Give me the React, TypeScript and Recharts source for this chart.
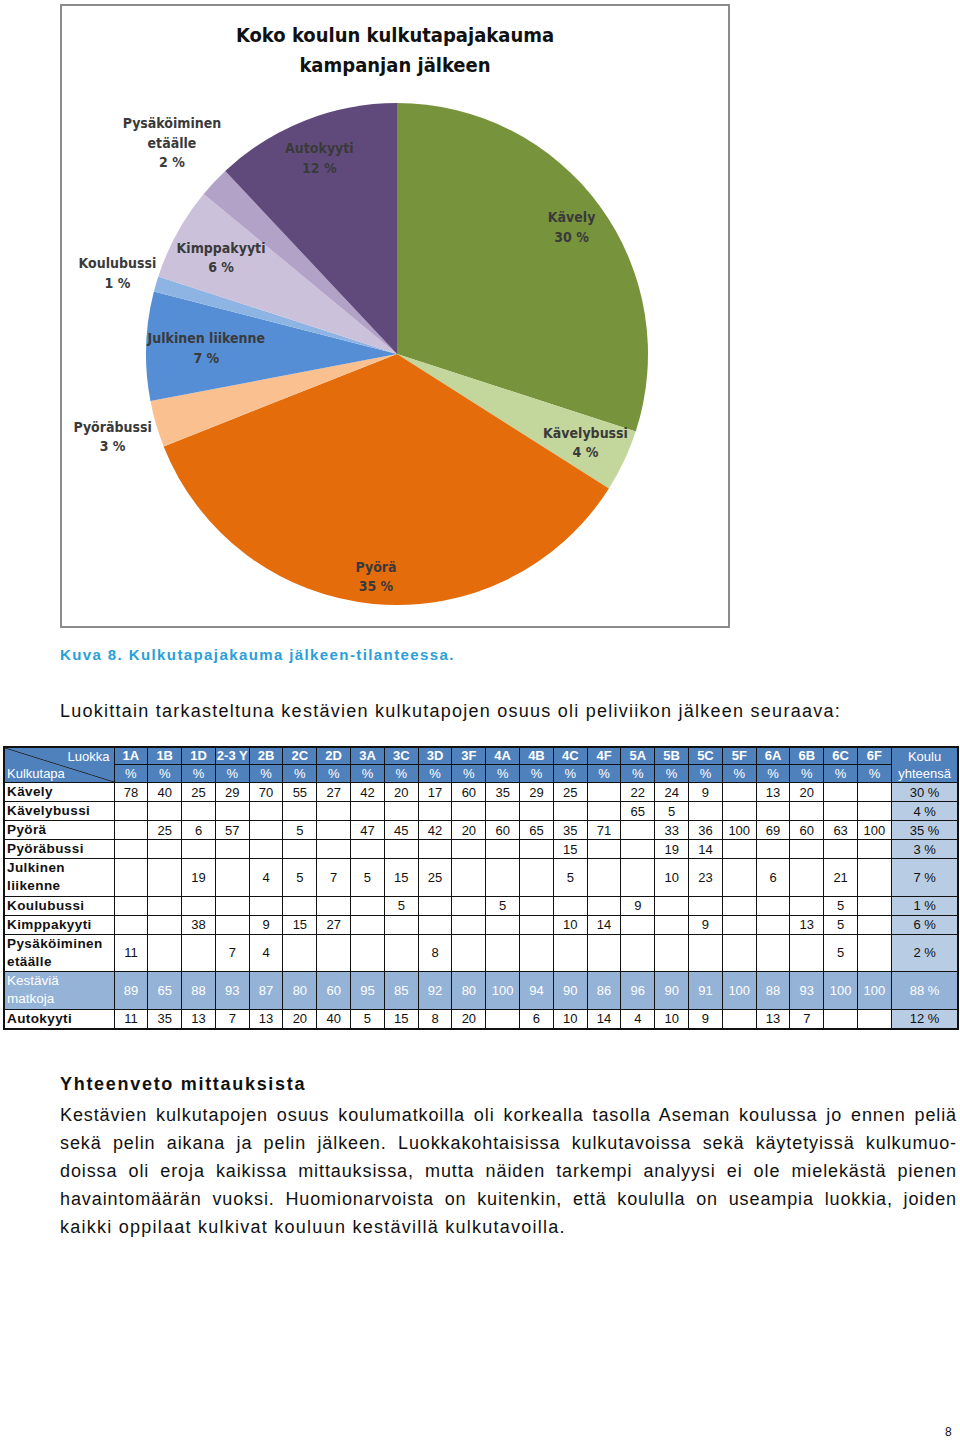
import React from 'react'
import { PieChart, Pie, Cell } from 'recharts'

if (typeof document !== 'undefined') {
    document.body.style.margin = '0'
}

// Pie data (whole school, after the campaign)
const pieNames = ['Kävely', 'Kävelybussi', 'Pyörä', 'Pyöräbussi', 'Julkinen liikenne', 'Koulubussi', 'Kimppakyyti', 'Pysäköiminen\netäälle', 'Autokyyti']
const pieValues = [30, 4, 35, 3, 7, 1, 6, 2, 12]
const pieColors = ['#77933C', '#C3D69B', '#E46C0A', '#FAC090', '#558ED5', '#8EB4E3', '#CCC1DA', '#B3A2C7', '#604A7B']
// how far from the centre each label sits (fraction of the radius)
const labelRadius = [0.86, 0.83, 0.89, 1.18, 0.76, 1.16, 0.8, 1.23, 0.84]

// Table data
const classes = ['1A', '1B', '1D', '2-3 Y', '2B', '2C', '2D', '3A', '3C', '3D', '3F', '4A', '4B', '4C', '4F', '5A', '5B', '5C', '5F', '6A', '6B', '6C', '6F']
const _ = null
const kavely = [78, 40, 25, 29, 70, 55, 27, 42, 20, 17, 60, 35, 29, 25, _, 22, 24, 9, _, 13, 20, _, _]
const kavelybussi = [_, _, _, _, _, _, _, _, _, _, _, _, _, _, _, 65, 5, _, _, _, _, _, _]
const pyora = [_, 25, 6, 57, _, 5, _, 47, 45, 42, 20, 60, 65, 35, 71, _, 33, 36, 100, 69, 60, 63, 100]
const pyorabussi = [_, _, _, _, _, _, _, _, _, _, _, _, _, 15, _, _, 19, 14, _, _, _, _, _]
const julkinen = [_, _, 19, _, 4, 5, 7, 5, 15, 25, _, _, _, 5, _, _, 10, 23, _, 6, _, 21, _]
const koulubussi = [_, _, _, _, _, _, _, _, 5, _, _, 5, _, _, _, 9, _, _, _, _, _, 5, _]
const kimppakyyti = [_, _, 38, _, 9, 15, 27, _, _, _, _, _, _, 10, 14, _, _, 9, _, _, 13, 5, _]
const pysakoiminen = [11, _, _, 7, 4, _, _, _, _, 8, _, _, _, _, _, _, _, _, _, _, _, 5, _]
const kestavia = [89, 65, 88, 93, 87, 80, 60, 95, 85, 92, 80, 100, 94, 90, 86, 96, 90, 91, 100, 88, 93, 100, 100]
const autokyyti = [11, 35, 13, 7, 13, 20, 40, 5, 15, 8, 20, _, 6, 10, 14, 4, 10, 9, _, 13, 7, _, _]
const rowLabels = ['Kävely', 'Kävelybussi', 'Pyörä', 'Pyöräbussi', 'Julkinen liikenne', 'Koulubussi', 'Kimppakyyti', 'Pysäköiminen etäälle', 'Kestäviä matkoja', 'Autokyyti']
const rowTotals = ['30 %', '4 %', '35 %', '3 %', '7 %', '1 %', '6 %', '2 %', '88 %', '12 %']

const pieData = pieNames.map((name, i) => ({ name, value: pieValues[i] }))
const rowValues = [kavely, kavelybussi, pyora, pyorabussi, julkinen, koulubussi, kimppakyyti, pysakoiminen, kestavia, autokyyti]

const RAD = Math.PI / 180
const chartFont = "'Liberation Sans Narrow', 'DejaVu Sans Condensed', 'DejaVu Sans', sans-serif"
const textFont = "'Liberation Sans', Arial, sans-serif"

const renderLabel = (props: any) => {
    const { cx, cy, midAngle, outerRadius, index, value } = props
    const r = outerRadius * labelRadius[index]
    const x = cx + r * Math.cos(-midAngle * RAD)
    const y = cy + r * Math.sin(-midAngle * RAD)
    const lines = [...pieNames[index].split('\n'), `${value} %`]
    const step = 19.5
    const top = y - ((lines.length - 1) * step) / 2
    return (
        <text textAnchor="middle" fill="#3a3a3a" fontFamily={chartFont} fontWeight="bold" fontSize={14}>
            {lines.map((line, i) => (
                <tspan key={i} x={x} y={top + i * step} dominantBaseline="central">{line}</tspan>
            ))}
        </text>
    )
}

const bodyLines = [
    'Kestävien kulkutapojen osuus koulumatkoilla oli korkealla tasolla Aseman koulussa jo ennen peliä',
    'sekä pelin aikana ja pelin jälkeen. Luokkakohtaisissa kulkutavoissa sekä käytetyissä kulkumuo-',
    'doissa oli eroja kaikissa mittauksissa, mutta näiden tarkempi analyysi ei ole mielekästä pienen',
    'havaintomäärän vuoksi. Huomionarvoista on kuitenkin, että koululla on useampia luokkia, joiden',
    'kaikki oppilaat kulkivat kouluun kestävillä kulkutavoilla.',
]

const BLUE = '#4F81BD'
const MID = '#95B3D7'
const LIGHT = '#B8CCE4'
const line = '1px solid #111'

function Table() {
    const cell: React.CSSProperties = { border: line, padding: 0, textAlign: 'center', whiteSpace: 'nowrap', overflow: 'hidden' }
    return (
        <table style={{ position: 'absolute', left: 3, top: 746, width: 954, borderCollapse: 'collapse', tableLayout: 'fixed', fontFamily: textFont, fontSize: 13, border: '2px solid #111', color: '#111' }}>
            <colgroup>
                <col style={{ width: 110 }} />
                {classes.map(c => <col key={c} style={{ width: 33.8 }} />)}
                <col style={{ width: 67 }} />
            </colgroup>
            <tbody>
                <tr style={{ height: 17 }}>
                    <td rowSpan={2} style={{ ...cell, color: '#fff', lineHeight: '17px', background: `linear-gradient(to top right, ${BLUE} calc(50% - 0.8px), #222 50%, ${BLUE} calc(50% + 0.8px))` }}>
                        <div style={{ textAlign: 'right', paddingRight: 4 }}>Luokka</div>
                        <div style={{ textAlign: 'left', paddingLeft: 2 }}>Kulkutapa</div>
                    </td>
                    {classes.map(c => (
                        <td key={c} style={{ ...cell, background: BLUE, color: '#fff', fontWeight: 'bold' }}>{c}</td>
                    ))}
                    <td rowSpan={2} style={{ ...cell, background: BLUE, color: '#fff', lineHeight: '17px' }}>Koulu<br />yhteensä</td>
                </tr>
                <tr style={{ height: 18 }}>
                    {classes.map(c => (
                        <td key={c} style={{ ...cell, background: BLUE, color: '#fff' }}>%</td>
                    ))}
                </tr>
                {rowLabels.map((label, r) => {
                    const isSum = label === 'Kestäviä matkoja'
                    const parts = label.split(' ')
                    const h = parts.length > 1 ? 37.5 : 18.5
                    const bg = isSum ? MID : '#fff'
                    const color = isSum ? '#fff' : '#111'
                    return (
                        <tr key={label} style={{ height: h }}>
                            <td style={{ ...cell, textAlign: 'left', paddingLeft: 2, background: bg, color, fontWeight: isSum ? 'normal' : 'bold', letterSpacing: isSum ? 0 : 0.4, lineHeight: '18px', fontSize: 13.5 }}>
                                {parts.map((p, i) => (
                                    <React.Fragment key={i}>{i > 0 && <br />}{p}</React.Fragment>
                                ))}
                            </td>
                            {rowValues[r].map((v, i) => (
                                <td key={i} style={{ ...cell, background: bg, color }}>{v ?? ''}</td>
                            ))}
                            <td style={{ ...cell, background: isSum ? MID : LIGHT, color }}>{rowTotals[r]}</td>
                        </tr>
                    )
                })}
            </tbody>
        </table>
    )
}

export default function App() {
    return (
        <div style={{ position: 'relative', width: 960, height: 1442, background: '#fff', overflow: 'hidden' }}>
            {/* Chart frame */}
            <div style={{ position: 'absolute', left: 60, top: 4, width: 666, height: 620, border: '2px solid #8c8c8c', background: '#fff' }}>
                <div style={{ position: 'absolute', left: 0, top: 14, width: 666, textAlign: 'center', fontFamily: chartFont, fontWeight: 'bold', fontSize: 20, lineHeight: '30px', color: '#111' }}>
                    Koko koulun kulkutapajakauma<br />kampanjan jälkeen
                </div>
                <div style={{ position: 'absolute', left: 0, top: 0 }}>
                    <PieChart width={666} height={620}>
                        <Pie
                            data={pieData}
                            dataKey="value"
                            nameKey="name"
                            cx={330}
                            cy={343}
                            outerRadius={251}
                            startAngle={90}
                            endAngle={-270}
                            stroke="none"
                            label={renderLabel}
                            labelLine={false}
                            isAnimationActive={false}
                        >
                            {pieData.map((d, i) => <Cell key={d.name} fill={pieColors[i]} />)}
                        </Pie>
                    </PieChart>
                </div>
            </div>

            {/* Caption */}
            <div style={{ position: 'absolute', left: 60, top: 645, fontFamily: textFont, fontWeight: 'bold', fontSize: 15, lineHeight: '20px', letterSpacing: 1.4, color: '#2A9FD8' }}>
                Kuva 8. Kulkutapajakauma jälkeen-tilanteessa.
            </div>

            <div style={{ position: 'absolute', left: 60, top: 700, fontFamily: textFont, fontSize: 18, lineHeight: '22px', letterSpacing: 1.25, color: '#111' }}>
                Luokittain tarkasteltuna kestävien kulkutapojen osuus oli peliviikon jälkeen seuraava:
            </div>

            <Table />

            {/* Summary */}
            <div style={{ position: 'absolute', left: 60, top: 1073, fontFamily: textFont, fontWeight: 'bold', fontSize: 18, lineHeight: '22px', letterSpacing: 1.7, color: '#111' }}>
                Yhteenveto mittauksista
            </div>
            {bodyLines.map((t, i) => {
                const last = i === bodyLines.length - 1
                return (
                    <div
                        key={i}
                        style={{
                            position: 'absolute', left: 60, top: 1104 + i * 28, width: 897,
                            fontFamily: textFont, fontSize: 18, lineHeight: '22px', letterSpacing: last ? 1.25 : 0.9, color: '#111',
                            textAlign: 'justify', textAlignLast: last ? 'left' : 'justify', whiteSpace: last ? 'normal' : 'nowrap',
                        }}
                    >
                        {t}
                    </div>
                )
            })}

            <div style={{ position: 'absolute', left: 945, top: 1425, fontFamily: textFont, fontSize: 12, color: '#111' }}>8</div>
        </div>
    )
}
